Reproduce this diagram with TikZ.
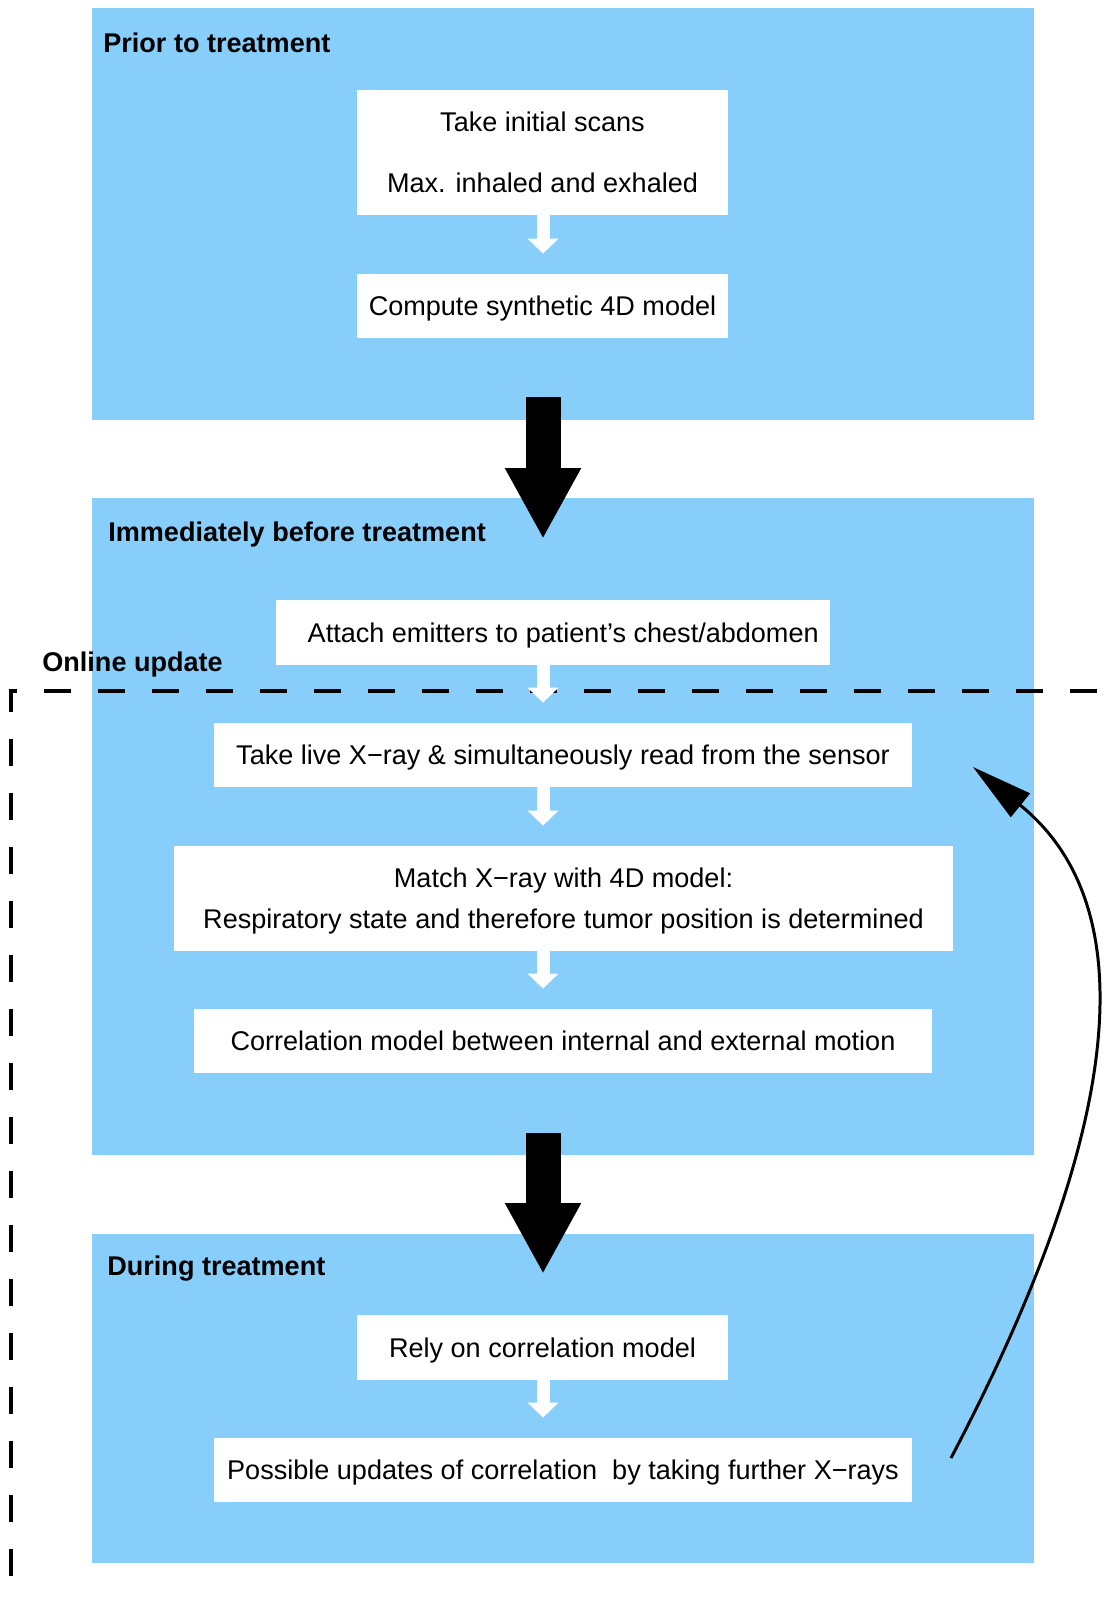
\documentclass[tikz,border=0pt]{standalone}
\usepackage{fontspec}
\setmainfont{Liberation Sans}
\usetikzlibrary{arrows.meta,positioning,calc}
\definecolor{panelblue}{RGB}{135,206,250}
\tikzset{
  panel/.style={rectangle, fill=panelblue, minimum width=188.4mm, inner sep=0pt},
  box/.style={rectangle, fill=white, align=center, inner sep=0pt, text depth=-2.4pt},
  ttl/.style={anchor=west, inner sep=0pt, font=\bfseries\fontsize{15.4}{18.5}\selectfont},
  flow/.style={white, line width=2.6mm, -{Triangle[length=3mm,width=6mm]}, shorten >=4mm},
  bigarr/.style={black, line width=7mm, -{Triangle[length=14.2mm,width=14.2mm]}},
  backarr/.style={black, line width=1.7pt, -{Triangle[length=12.2mm,width=6mm]}},
  onlineframe/.style={black, line width=2.2pt, dash pattern=on 5.4mm off 5.4mm}
}
\begin{document}
\begin{tikzpicture}[x=0.2mm, y=-0.2mm, font=\fontsize{15.4}{18.5}\selectfont]
\useasboundingbox (0,0) rectangle (1110,1601);
% phases
\node[panel, minimum height=82.4mm] (prior) at (563,214) {};
\node[panel, minimum height=131.4mm] (before) at (563,826.5) {};
\node[panel, minimum height=65.8mm] (during) at (563,1398.5) {};
% online update frame
\draw[onlineframe] (11,1576) -- (11,691) -- (1110,691);
% steps
\node[box, minimum width=74.2mm, minimum height=25mm] (scans) at (542.5,152.5) {Take initial scans\\[16.1pt]Max. inhaled and exhaled};
\node[box, minimum width=74.2mm, minimum height=12.8mm] (synth) at (542.5,306) {Compute synthetic 4D model};
\node[box, minimum width=110.8mm, minimum height=13mm] (attach) at (553,632.5) {\hspace*{11.6pt}Attach emitters to patient’s chest/abdomen};
\node[box, minimum width=139.6mm, minimum height=12.8mm] (xray) at (563,755) {Take live X−ray \& simultaneously read from the sensor};
\node[box, minimum width=155.8mm, minimum height=21mm] (match) at (563.5,898.5) {Match X−ray with 4D model:\\[4.7pt]Respiratory state and therefore tumor position is determined};
\node[box, minimum width=147.6mm, minimum height=12.8mm] (corr) at (563,1041) {Correlation model between internal and external motion};
\node[box, minimum width=74.2mm, minimum height=13mm] (rely) at (542.5,1347.5) {Rely on correlation model};
\node[box, minimum width=139.6mm, minimum height=12.8mm] (upd) at (563,1470) {Possible updates of correlation\ \ by taking further X−rays};
% small arrows
\coordinate (col) at (543,0);
\foreach \a/\b in {scans/synth, attach/xray, xray/match, match/corr, rely/upd}
  \draw[flow] (\a.south -| col) -- (\b.north -| col);
% big arrows
\coordinate (a1top) at (543,397);
\coordinate (a1tip) at (543,539);
\coordinate (a2top) at (543,1133);
\coordinate (a2tip) at (543,1274);
\draw[bigarr] (a1top) -- (a1tip);
\draw[bigarr] (a2top) -- (a2tip);
% feedback
\coordinate (fbstart) at (951,1458);
\coordinate (fbtip) at (973,767);
\draw[backarr] (fbstart) .. controls (1118,1140) and (1150,910) .. (fbtip);
% labels
\node[ttl] (priorlbl) at (103,43) {Prior to treatment};
\node[ttl] (beforelbl) at (108,534) {Immediately before treatment};
\node[ttl] (onlinelbl) at (42,664) {Online update};
\node[ttl] (duringlbl) at (107,1269) {During treatment};
\end{tikzpicture}
\end{document}
